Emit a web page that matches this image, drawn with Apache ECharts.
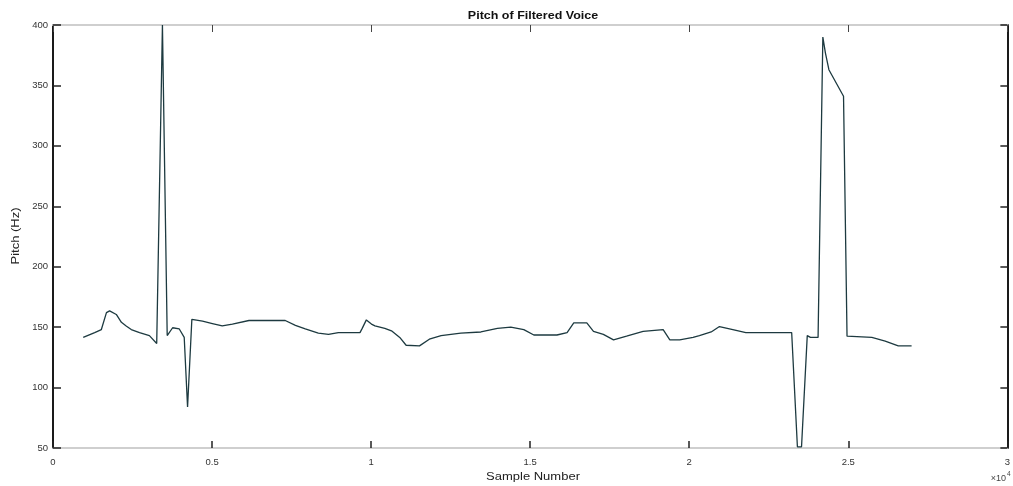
<!DOCTYPE html>
<html>
<head>
<meta charset="utf-8">
<script src="https://cdn.jsdelivr.net/npm/echarts@6/dist/echarts.min.js"></script>
<style>html,body{margin:0;padding:0;background:#fff;overflow:hidden;}#c{width:1013px;height:486px;}</style>
</head>
<body>
<div id="c"></div>
<script>
const sampleNumber = [950,1310,1520,1680,1780,1990,2150,2300,2460,2720,3030,3260,3290,3440,3590,3760,3970,4125,4230,4365,4410,4700,5010,5320,5640,6160,7300,7620,7930,8340,8660,8970,9650,9720,9850,10010,10120,10430,10640,10900,11100,11520,11830,12200,12820,13450,13970,14390,14800,15115,15840,16160,16370,16780,16990,17300,17620,18030,18550,19180,19390,19700,20120,20320,20690,20950,21370,21780,23220,23400,23530,23710,23810,24050,24200,24280,24390,24850,24960,25740,26160,26570,26990];
const pitchHz = [141.5,145.5,148,162,163.5,160.5,154,151,148,145.5,143,136.5,136,400,143,149.5,148.5,141.5,84,156.5,158,155,153,151,152.5,155.5,155.5,151.5,148.5,145,144,145.5,145.5,149,156,152.5,151,149,147,141.5,135,134.5,140,143,145,146,149,150,148,143.5,143.5,145.5,153.5,153.5,146.5,144,139.5,142.5,146.5,148,139.5,139.5,141.5,143,146,150.5,148,145.5,145.5,51,51,143,141.5,141.5,390,377,363,341,142.5,141.5,138.5,134.5,134.5];
const xTickValues = [0,5000,10000,15000,20000,25000,30000];
const yTickValues = [50,100,150,200,250,300,350,400];
const titleText = 'Pitch of Filtered Voice';
const xName = 'Sample Number';
const yName = 'Pitch (Hz)';

const seriesData = sampleNumber.map((x, i) => [x, pitchHz[i]]);
const chart = echarts.init(document.getElementById('c'), null, {renderer: 'canvas', width: 1013, height: 486});
const lblFont = {fontFamily: 'Liberation Sans, Arial, sans-serif', fontSize: 9.5, color: '#333'};
const dark = '#1a1a1a', light = '#cfcfcf';
chart.setOption({
  animation: false,
  backgroundColor: '#fff',
  grid: {left: 53, top: 25, width: 959, height: 423, containLabel: false},
  xAxis: [
    {type: 'value', min: xTickValues[0], max: xTickValues[xTickValues.length-1], interval: 5000, position: 'bottom',
     axisLine: {show: true, onZero: false, lineStyle: {color: light, width: 2}},
     axisTick: {show: true, inside: true, length: 7, lineStyle: {color: '#222', width: 1.5}},
     axisLabel: Object.assign({margin: 9, formatter: v => String(v / 10000)}, lblFont),
     splitLine: {show: false}},
    {type: 'value', min: xTickValues[0], max: xTickValues[xTickValues.length-1], interval: 5000, position: 'top',
     axisLine: {show: true, onZero: false, lineStyle: {color: light, width: 2}},
     axisTick: {show: true, inside: true, length: 7, lineStyle: {color: '#444', width: 1}},
     axisLabel: {show: false}, splitLine: {show: false}}
  ],
  yAxis: [
    {type: 'value', min: yTickValues[0], max: yTickValues[yTickValues.length-1], interval: 50, position: 'left',
     axisLine: {show: true, onZero: false, lineStyle: {color: dark, width: 2}},
     axisTick: {show: true, inside: true, length: 8, lineStyle: {color: '#222', width: 1.5}},
     axisLabel: Object.assign({margin: 5}, lblFont),
     splitLine: {show: false}},
    {type: 'value', min: yTickValues[0], max: yTickValues[yTickValues.length-1], interval: 50, position: 'right',
     axisLine: {show: true, onZero: false, lineStyle: {color: dark, width: 2}},
     axisTick: {show: true, inside: true, length: 7, lineStyle: {color: '#222', width: 1.5}},
     axisLabel: {show: false}, splitLine: {show: false}}
  ],
  series: [{
    type: 'line', xAxisIndex: 0, yAxisIndex: 0, data: seriesData,
    showSymbol: false, symbol: 'none', smooth: false,
    lineStyle: {color: '#1d3a40', width: 1.3}
  }],
  graphic: [
    {type: 'text', x: 533, y: 16, scaleX: 1.25, style: {text: titleText, textAlign: 'center', textVerticalAlign: 'middle', font: 'bold 10px Liberation Sans, Arial, sans-serif', fill: '#111'}},
    {type: 'text', x: 533, y: 477, scaleX: 1.3, style: {text: xName, textAlign: 'center', textVerticalAlign: 'middle', font: '10px Liberation Sans, Arial, sans-serif', fill: '#222'}},
    {type: 'text', x: 16, y: 236, rotation: Math.PI / 2, scaleX: 1.3, style: {text: yName, textAlign: 'center', textVerticalAlign: 'middle', font: '10px Liberation Sans, Arial, sans-serif', fill: '#222'}},
    {type: 'text', x: 1006, y: 479, style: {text: '×10', textAlign: 'right', textVerticalAlign: 'middle', font: '9px Liberation Sans, Arial, sans-serif', fill: '#444'}},
    {type: 'text', x: 1007, y: 474, style: {text: '4', textAlign: 'left', textVerticalAlign: 'middle', font: '6.5px Liberation Sans, Arial, sans-serif', fill: '#444'}}
  ]
});
</script>
</body>
</html>
